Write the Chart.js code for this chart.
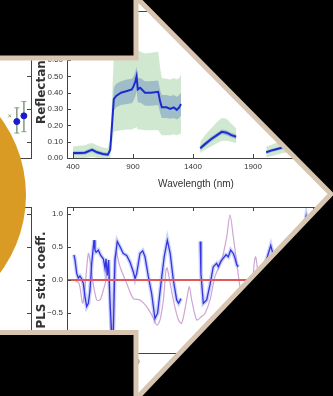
<!DOCTYPE html>
<html>
<head>
<meta charset="utf-8">
<script src="https://cdn.jsdelivr.net/npm/chart.js@4.4.1/dist/chart.umd.min.js"></script>
<style>
  html, body { margin: 0; padding: 0; background: #000; }
  #wrap { position: relative; width: 333px; height: 396px; overflow: hidden; background: #fff; }
  canvas { position: absolute; }
  #mask { position: absolute; left: 0; top: 0; }
</style>
</head>
<body>
<div id="wrap">
  <canvas id="sideTop" width="90" height="200" style="left:-50px;top:0"></canvas>
  <canvas id="sideBottom" width="90" height="206" style="left:-50px;top:190px"></canvas>
  <canvas id="reflChart" width="333" height="200" style="left:0;top:0"></canvas>
  <canvas id="coeffChart" width="333" height="206" style="left:0;top:190px"></canvas>
  <svg id="mask" width="333" height="396" viewBox="0 0 333 396">
    <circle cx="-104" cy="195" r="130" fill="#d99b24"/>
    <path fill="#000" fill-rule="evenodd"
          d="M-20 -20H353V416H-20Z M-20 58H136V-3L331 194L136 399V332.5H-20Z"/>
    <path fill="none" stroke="#d8c5b1" stroke-width="5"
          d="M-20 58H136V-3L331 194L136 399V332.5H-20"/>
  </svg>
</div>
<script>
// ---- reflectance spectrum (null = water absorption bands removed) ----
const wavelengths = [400, 450, 500, 540, 560, 600, 650, 690, 710, 725, 740, 760, 800, 850, 890, 905, 920, 930, 940, 960,
  1000, 1050, 1110, 1125, 1140, 1180, 1210, 1240, 1265, 1285, 1300, 1380,
  1460, 1500, 1550, 1600, 1640, 1680, 1720, 1760, 1880,
  2010, 2050, 2100, 2150, 2200, 2250, 2300, 2350, 2400];
const reflMean = [0.030, 0.030, 0.032, 0.045, 0.050, 0.035, 0.025, 0.020, 0.050, 0.200, 0.360, 0.380, 0.400, 0.410, 0.420, 0.440, 0.470, 0.500, 0.420, 0.430,
  0.400, 0.400, 0.405, 0.350, 0.310, 0.310, 0.300, 0.310, 0.295, 0.310, 0.330, null,
  0.060, 0.085, 0.115, 0.140, 0.160, 0.155, 0.140, 0.130, null,
  0.035, 0.045, 0.055, 0.065, 0.075, 0.075, 0.070, 0.060, 0.050];
const reflSdLow = [0.018, 0.018, 0.020, 0.032, 0.037, 0.023, 0.014, 0.010, 0.030, 0.150, 0.290, 0.310, 0.325, 0.330, 0.335, 0.350, 0.380, 0.410, 0.340, 0.340,
  0.320, 0.320, 0.325, 0.280, 0.245, 0.245, 0.240, 0.245, 0.235, 0.245, 0.260, null,
  0.045, 0.070, 0.100, 0.125, 0.145, 0.140, 0.125, 0.115, null,
  0.025, 0.035, 0.045, 0.055, 0.065, 0.065, 0.060, 0.050, 0.040];
const reflSdHigh = [0.042, 0.042, 0.045, 0.058, 0.063, 0.048, 0.037, 0.032, 0.075, 0.250, 0.430, 0.455, 0.470, 0.480, 0.485, 0.500, 0.530, 0.560, 0.490, 0.490,
  0.470, 0.470, 0.475, 0.420, 0.385, 0.385, 0.380, 0.385, 0.375, 0.385, 0.400, null,
  0.075, 0.100, 0.130, 0.155, 0.175, 0.170, 0.155, 0.145, null,
  0.045, 0.055, 0.065, 0.075, 0.085, 0.085, 0.080, 0.070, 0.060];
const reflMin = [0.000, 0.000, 0.000, 0.005, 0.008, 0.000, 0.000, 0.000, 0.000, 0.080, 0.160, 0.165, 0.170, 0.175, 0.175, 0.180, 0.185, 0.190, 0.175, 0.175,
  0.170, 0.170, 0.170, 0.155, 0.140, 0.140, 0.140, 0.145, 0.140, 0.145, 0.150, null,
  0.030, 0.050, 0.070, 0.090, 0.105, 0.105, 0.100, 0.090, null,
  0.005, 0.010, 0.020, 0.030, 0.035, 0.035, 0.030, 0.025, 0.020];
const reflMax = [0.070, 0.075, 0.078, 0.090, 0.092, 0.078, 0.065, 0.060, 0.120, 0.360, 0.620, 0.645, 0.655, 0.650, 0.660, 0.665, 0.680, 0.700, 0.660, 0.650,
  0.640, 0.645, 0.650, 0.560, 0.490, 0.485, 0.480, 0.490, 0.480, 0.490, 0.510, null,
  0.100, 0.140, 0.180, 0.220, 0.245, 0.240, 0.210, 0.180, null,
  0.070, 0.080, 0.095, 0.105, 0.115, 0.115, 0.110, 0.100, 0.090];

// ---- PLS standardised coefficients ----
const coeffWl = [408, 417, 431, 444, 458, 472, 486, 500, 514, 528, 542, 556, 575, 583, 592, 611, 631, 653, 667, 675, 686, 697,
  708, 722, 736, 750, 769, 792, 819, 847, 875, 903, 917, 931, 958, 981, 1000, 1028, 1055, 1083, 1105, 1130,
  1160, 1186, 1210, 1236, 1264, 1280, 1300, 1380,
  1460, 1466, 1486, 1514, 1542, 1569, 1597, 1611, 1631, 1653, 1675, 1694, 1714, 1736, 1750, 1764, 1778, 1880,
  1990, 2020, 2048, 2080, 2120, 2170, 2220, 2280, 2320, 2342, 2370, 2400, 2450];
const coeffVals = [0.38, 0.30, 0.10, 0.03, 0.06, 0.02, -0.05, -0.25, -0.40, -0.35, -0.15, 0.25, 0.60, 0.45, 0.42, 0.45, 0.37, 0.32, 0.17, 0.32, 0.07, 0.30,
  -0.30, -0.80, -0.80, 0.30, 0.58, 0.50, 0.40, 0.37, 0.27, 0.12, 0.02, 0.10, 0.40, 0.44, 0.35, 0.05, -0.20, -0.58, -0.50, -0.10,
  0.35, 0.60, 0.40, 0.00, -0.30, -0.35, -0.28, null,
  0.58, 0.10, -0.35, -0.30, -0.07, 0.20, 0.25, 0.20, 0.28, 0.33, 0.38, 0.35, 0.45, 0.40, 0.33, 0.23, 0.20, null,
  0.20, 0.35, 0.52, 0.30, 0.00, -0.30, 0.10, 0.50, 0.70, 0.95, 0.50, 0.20, -0.10];
const refWl = [410, 450, 480, 500, 528, 545, 564, 597, 625, 653, 675, 690, 703, 715, 728, 742, 758, 792, 847, 903, 958,
  1014, 1069, 1100, 1125, 1153, 1175, 1185, 1210, 1236, 1278, 1306, 1347, 1369, 1389, 1431, 1472, 1500, 1542, 1583,
  1639, 1681, 1708, 1736, 1769, 1797, 1850, 1890, 1920, 1950, 2000, 2100, 2200, 2300, 2400];
const refVals = [0.00, -0.05, -0.35, -0.10, 0.40, 0.25, 0.00, -0.30, -0.30, -0.15, 0.00, 0.25, -0.20, -0.85, -0.95, 0.10, 0.42, 0.20, -0.05, -0.28, -0.30,
  -0.40, -0.57, -0.68, -0.60, -0.30, 0.15, 0.18, -0.05, -0.30, -0.60, -0.65, -0.30, -0.10, -0.30, -0.60, -0.55, -0.50, -0.30, 0.05,
  0.30, 0.65, 0.98, 0.65, 0.20, -0.15, -0.40, -0.10, 0.35, 0.00, -0.40, -0.20, 0.20, -0.20, 0.10];

const wlTicks = [400, 900, 1400, 1900, 2400];
const reflTicks = [0, 0.1, 0.2, 0.3, 0.4, 0.5, 0.6, 0.7, 0.8, 0.9];
const coeffTicks = [-1, -0.5, 0, 0.5, 1];

// ---- side panel (sample means with error bars) ----
const sideX = [8, 9];
const sideMean = [0.223, 0.258];
const sideLow = [0.153, 0.161];
const sideHigh = [0.307, 0.346];
const sideOtherX = [7];
const sideOther = [0.258];
const sideTicks = [0.1, 0.3, 0.5, 0.7];

const SANS = '"Liberation Sans", Arial, sans-serif';
const tickFont = { family: SANS, size: 8 };
const axisTitleFont = { family: '"DejaVu Sans", sans-serif', size: 12, weight: 'bold' };

const xy = (xs, ys) => xs.map((x, i) => ({ x: x, y: ys[i] }));

// matplotlib-like box with inward ticks
const frame = {
  id: 'frame',
  afterDatasetsDraw(chart) {
    const { ctx, chartArea: a } = chart;
    const len = 4;
    ctx.save();
    ctx.strokeStyle = '#444';
    ctx.lineWidth = 1;
    ctx.strokeRect(Math.round(a.left) + 0.5, Math.round(a.top) + 0.5, Math.round(a.width), Math.round(a.height));
    ctx.beginPath();
    const xs = chart.scales.x;
    (xs.ticks || []).forEach(t => {
      const px = Math.round(xs.getPixelForValue(t.value)) + 0.5;
      ctx.moveTo(px, a.bottom); ctx.lineTo(px, a.bottom - len);
      ctx.moveTo(px, a.top); ctx.lineTo(px, a.top + len);
    });
    const ys = chart.scales.y;
    (ys.ticks || []).forEach(t => {
      const py = Math.round(ys.getPixelForValue(t.value)) + 0.5;
      ctx.moveTo(a.left, py); ctx.lineTo(a.left + len, py);
      ctx.moveTo(a.right, py); ctx.lineTo(a.right - len, py);
    });
    ctx.stroke();
    ctx.restore();
  }
};

const baseOpts = {
  responsive: false,
  animation: false,
  events: [],
  plugins: { legend: { display: false }, tooltip: { enabled: false } },
  elements: { point: { radius: 0 } }
};

const noGrid = { display: false, drawTicks: false };

// reflectance chart
new Chart(document.getElementById('reflChart'), {
  type: 'line',
  data: {
    datasets: [
      { data: xy(wavelengths, reflMax), fill: '+1', backgroundColor: 'rgba(150,205,150,0.45)', borderWidth: 0, order: 3 },
      { data: xy(wavelengths, reflMin), fill: false, borderWidth: 0, order: 4 },
      { data: xy(wavelengths, reflSdHigh), fill: '+1', backgroundColor: 'rgba(70,110,190,0.35)', borderWidth: 0, order: 1 },
      { data: xy(wavelengths, reflSdLow), fill: false, borderWidth: 0, order: 2 },
      { data: xy(wavelengths, reflMean), borderColor: '#1c2bd0', borderWidth: 2, fill: false, order: 0 }
    ]
  },
  options: Object.assign({}, baseOpts, {
    layout: { padding: { top: 11, right: 8, bottom: 0, left: 0 } },
    scales: {
      x: {
        type: 'linear', min: 350, max: 2500,
        afterBuildTicks: s => { s.ticks = wlTicks.map(v => ({ value: v })); },
        afterFit: s => { s.height = 42; },
        grid: noGrid, border: { display: false },
        ticks: { autoSkip: false, maxRotation: 0, padding: 4, font: tickFont, color: '#333', callback: v => String(v) },
        title: { display: true, text: 'Wavelength (nm)', color: '#333', font: { family: SANS, size: 10 }, padding: { top: 0, bottom: 10 } }
      },
      y: {
        min: 0, max: 0.9,
        afterBuildTicks: s => { s.ticks = reflTicks.map(v => ({ value: v })); },
        afterFit: s => { s.width = 67; },
        grid: noGrid, border: { display: false },
        ticks: { padding: 4, font: tickFont, color: '#333', callback: v => v.toFixed(2) },
        title: { display: true, text: 'Reflectance', color: '#333', font: axisTitleFont, padding: { top: 35, bottom: 0 } }
      }
    }
  }),
  plugins: [frame]
});

// PLS coefficient chart
new Chart(document.getElementById('coeffChart'), {
  type: 'line',
  data: {
    datasets: [
      { data: [{ x: 350, y: 0 }, { x: 2500, y: 0 }], borderColor: '#e2575b', borderWidth: 2, order: 0 },
      { data: xy(coeffWl, coeffVals), borderColor: '#3434e0', borderWidth: 1.3, order: 1 },
      { data: xy(coeffWl, coeffVals), borderColor: 'rgba(110,130,240,0.35)', borderWidth: 4, order: 2 },
      { data: xy(refWl, refVals), borderColor: '#cfa6d3', borderWidth: 1.2, tension: 0.3, order: 3 }
    ]
  },
  options: Object.assign({}, baseOpts, {
    layout: { padding: { top: 17, right: 8, bottom: 0, left: 0 } },
    scales: {
      x: {
        type: 'linear', min: 350, max: 2500,
        afterBuildTicks: s => { s.ticks = wlTicks.map(v => ({ value: v })); },
        afterFit: s => { s.height = 43; },
        grid: noGrid, border: { display: false },
        ticks: { autoSkip: false, maxRotation: 0, padding: 4, font: tickFont, color: '#333', callback: v => String(v) }
      },
      y: {
        min: -1.1, max: 1.1,
        afterBuildTicks: s => { s.ticks = coeffTicks.map(v => ({ value: v })); },
        afterFit: s => { s.width = 67; },
        grid: noGrid, border: { display: false },
        ticks: { padding: 4, font: tickFont, color: '#333', callback: v => (v < 0 ? '\u2212' : '') + Math.abs(v).toFixed(1) },
        title: { display: true, text: 'PLS std. coeff.', color: '#333', font: axisTitleFont, padding: { top: 35, bottom: 0 } }
      }
    }
  }),
  plugins: [frame]
});

// side panels on the left
const hiddenAxis = (min, max, tickList, size) => ({
  type: 'linear', min: min, max: max,
  afterBuildTicks: s => { s.ticks = tickList.map(v => ({ value: v })); },
  afterFit: s => { if (size === 'w') s.width = 0; else s.height = 0; },
  grid: noGrid, border: { display: false }, ticks: { display: false }
});

new Chart(document.getElementById('sideTop'), {
  type: 'scatter',
  data: {
    datasets: [
      { type: 'bar', data: sideX.map((x, i) => ({ x: x, y: [sideLow[i], sideHigh[i]] })), backgroundColor: '#8da088', barThickness: 1, order: 3 },
      { data: xy(sideX, sideLow).concat(xy(sideX, sideHigh)), pointStyle: 'line', pointRadius: 2.5, borderColor: '#8da088', borderWidth: 1, order: 2 },
      { data: xy(sideOtherX, sideOther), pointStyle: 'crossRot', pointRadius: 2, borderColor: '#86a276', borderWidth: 1, order: 1 },
      { data: xy(sideX, sideMean), pointRadius: 3, backgroundColor: '#1a1ccc', borderColor: '#1a1ccc', order: 0 }
    ]
  },
  options: Object.assign({}, baseOpts, {
    layout: { padding: { top: 11, right: 9, bottom: 42, left: 10 } },
    scales: { x: hiddenAxis(0, 10, [], 'h'), y: hiddenAxis(0, 0.9, sideTicks, 'w') }
  }),
  plugins: [frame]
});

new Chart(document.getElementById('sideBottom'), {
  type: 'scatter',
  data: { datasets: [{ data: [] }] },
  options: Object.assign({}, baseOpts, {
    layout: { padding: { top: 17, right: 9, bottom: 43, left: 10 } },
    scales: { x: hiddenAxis(0, 10, [], 'h'), y: hiddenAxis(-1.1, 1.1, coeffTicks, 'w') }
  }),
  plugins: [frame]
});
</script>
</body>
</html>
